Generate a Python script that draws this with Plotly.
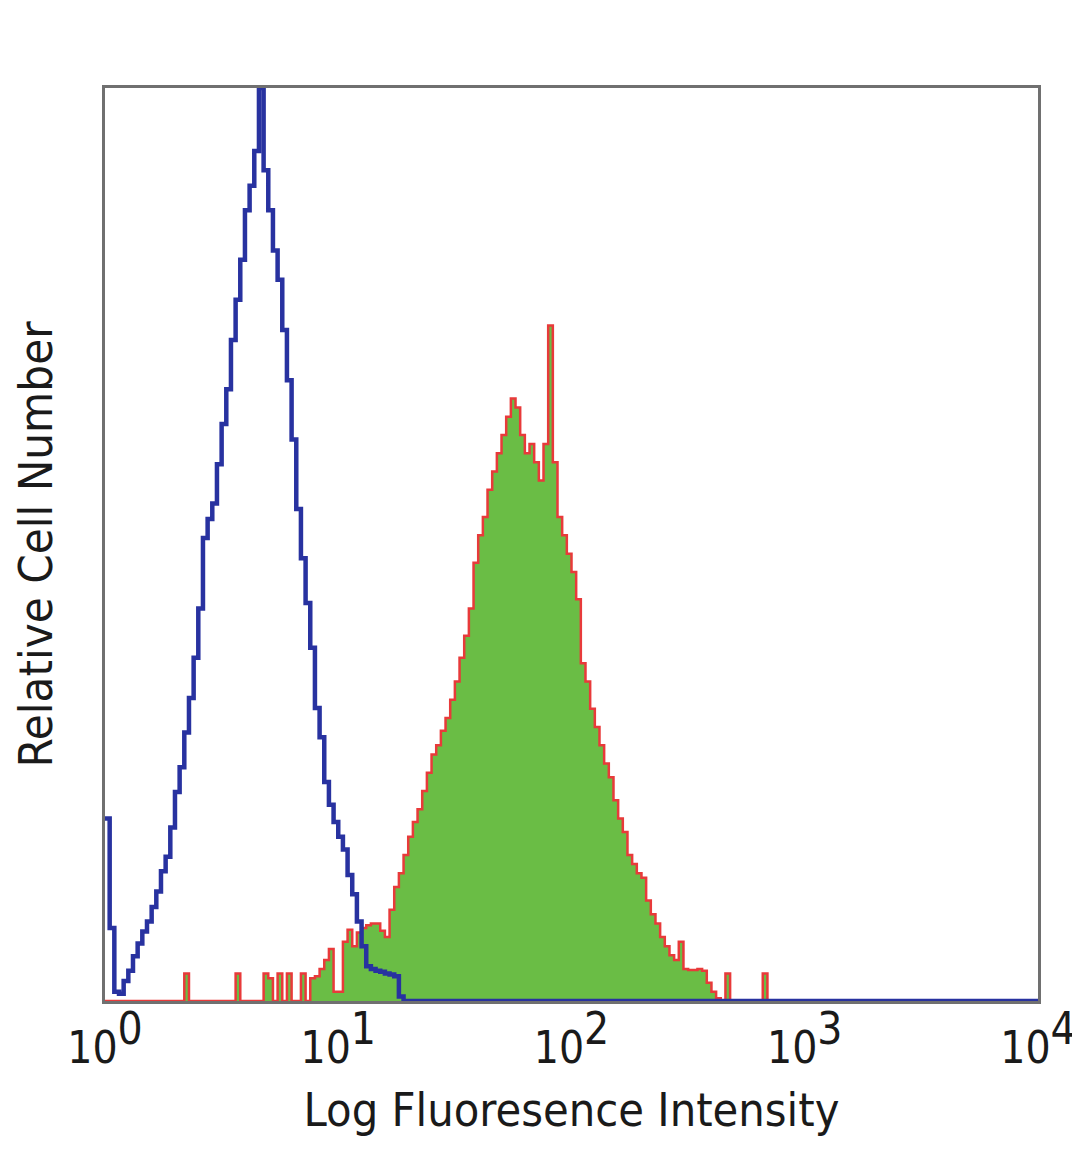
import numpy as np
import plotly.graph_objects as go

# Histogram channels: log10(intensity) grid with 0.02-decade bins
BIN_STEP = 0.02

# Isotype control (blue outline), relative counts per channel starting at 10^0
isotype_counts = [20, 8, 1, 0.8, 2.2, 3.3, 4.9, 6.3, 7.6, 8.7, 10.3, 12, 14.2, 15.8, 19,
                  22.9, 25.6, 29.4, 33.2, 37.6, 43, 50.7, 52.8, 54.5, 58.8, 63.2, 67, 72.4,
                  76.8, 81.2, 86.6, 89.3, 93.1, 100, 91, 86.6, 82.2, 79, 73.5, 68, 61.5,
                  53.9, 48.5, 43.6, 38.7, 32.1, 28.9, 24, 21.5, 19.6, 18, 16.6, 13.8, 11.7,
                  8.7, 6, 3.8, 3.5, 3.3, 3.2, 3, 2.9, 2.7, 0.5, 0]

# Stained sample (green fill, red outline)
stained_counts = [0, 0, 0, 0, 0, 0, 0, 0, 0, 0, 0, 0, 0, 0, 0, 0, 0, 3,
                  0, 0, 0, 0, 0, 0, 0, 0, 0, 0, 3, 0, 0, 0, 0, 0,
                  3, 2.5, 0, 3, 0, 3, 0, 0, 3, 0, 2.5, 2.7, 3.5, 4.5, 5.7, 1, 1,
                  6.5, 7.8, 6, 7.5, 8, 8.3, 8.5, 8.5, 7.7, 7, 10, 12.5, 14, 16, 18,
                  19.6, 21, 23, 25, 27, 28, 29.6, 31, 33, 35, 37.6, 40, 43, 48, 51,
                  53, 56, 58, 60, 62, 64, 66, 65, 62, 60, 61, 59, 57, 61, 74, 59, 53,
                  51, 49, 47, 44, 37, 35, 32, 30, 28, 26, 24.5, 22, 20, 18.5, 16, 15,
                  14, 13.5, 11, 9.5, 8.5, 7, 6, 5, 4.5, 6.5, 3.5, 3.4, 3.4, 3.5, 3.3,
                  2, 1, 0.3, 0, 3, 0, 0, 0, 0, 0, 0, 0, 3, 0]

tick_vals = [1, 10, 100, 1000, 10000]
tick_exponents = ["0", "1", "2", "3", "4"]

X_MAX = 10000
TICK_SIZE = 44


def channels(counts):
    x = list(10 ** (np.arange(len(counts)) * BIN_STEP))
    return x + [X_MAX], list(counts) + [0]


tick_text = ["10<sup><span style='font-size:%dpx'>%s</span></sup>" % (TICK_SIZE, e)
             for e in tick_exponents]

FONT = "Liberation Sans Narrow, DejaVu Sans Condensed, Liberation Sans, sans-serif"

fig = go.Figure()

sx, sy = channels(stained_counts)
fig.add_trace(go.Scatter(
    x=sx, y=sy, mode="lines", line=dict(color="rgb(232,58,58)", width=2.5, shape="hv"),
    fill="tozeroy", fillcolor="rgb(106,189,69)", showlegend=False, hoverinfo="skip"))

bx, by = channels(isotype_counts)
fig.add_trace(go.Scatter(
    x=bx, y=by, mode="lines", line=dict(color="rgb(40,50,160)", width=4.5, shape="hv"),
    showlegend=False, hoverinfo="skip"))

fig.update_layout(
    width=1080, height=1169,
    margin=dict(l=97, r=50, t=80, b=176),
    paper_bgcolor="white", plot_bgcolor="white",
    font=dict(family=FONT, color="#1a1a1a", size=46),
)
fig.update_xaxes(
    type="log", range=[0, 4], tickvals=tick_vals, ticktext=tick_text,
    showgrid=False, zeroline=False, ticks="outside", ticklen=6, tickcolor="rgba(0,0,0,0)",
    showline=True, mirror=True, linecolor="#707070", linewidth=3,
    tickfont=dict(size=TICK_SIZE, family=FONT, color="#1a1a1a"),
    title=dict(text="Log Fluoresence Intensity", font=dict(size=46.5, family=FONT), standoff=22),
)
fig.update_yaxes(
    range=[0, 100], showticklabels=False, showgrid=False, zeroline=False, ticks="",
    showline=True, mirror=True, linecolor="#707070", linewidth=3,
    title=dict(text="Relative Cell Number", font=dict(size=47, family=FONT), standoff=40),
)

fig.write_html("out.html")
